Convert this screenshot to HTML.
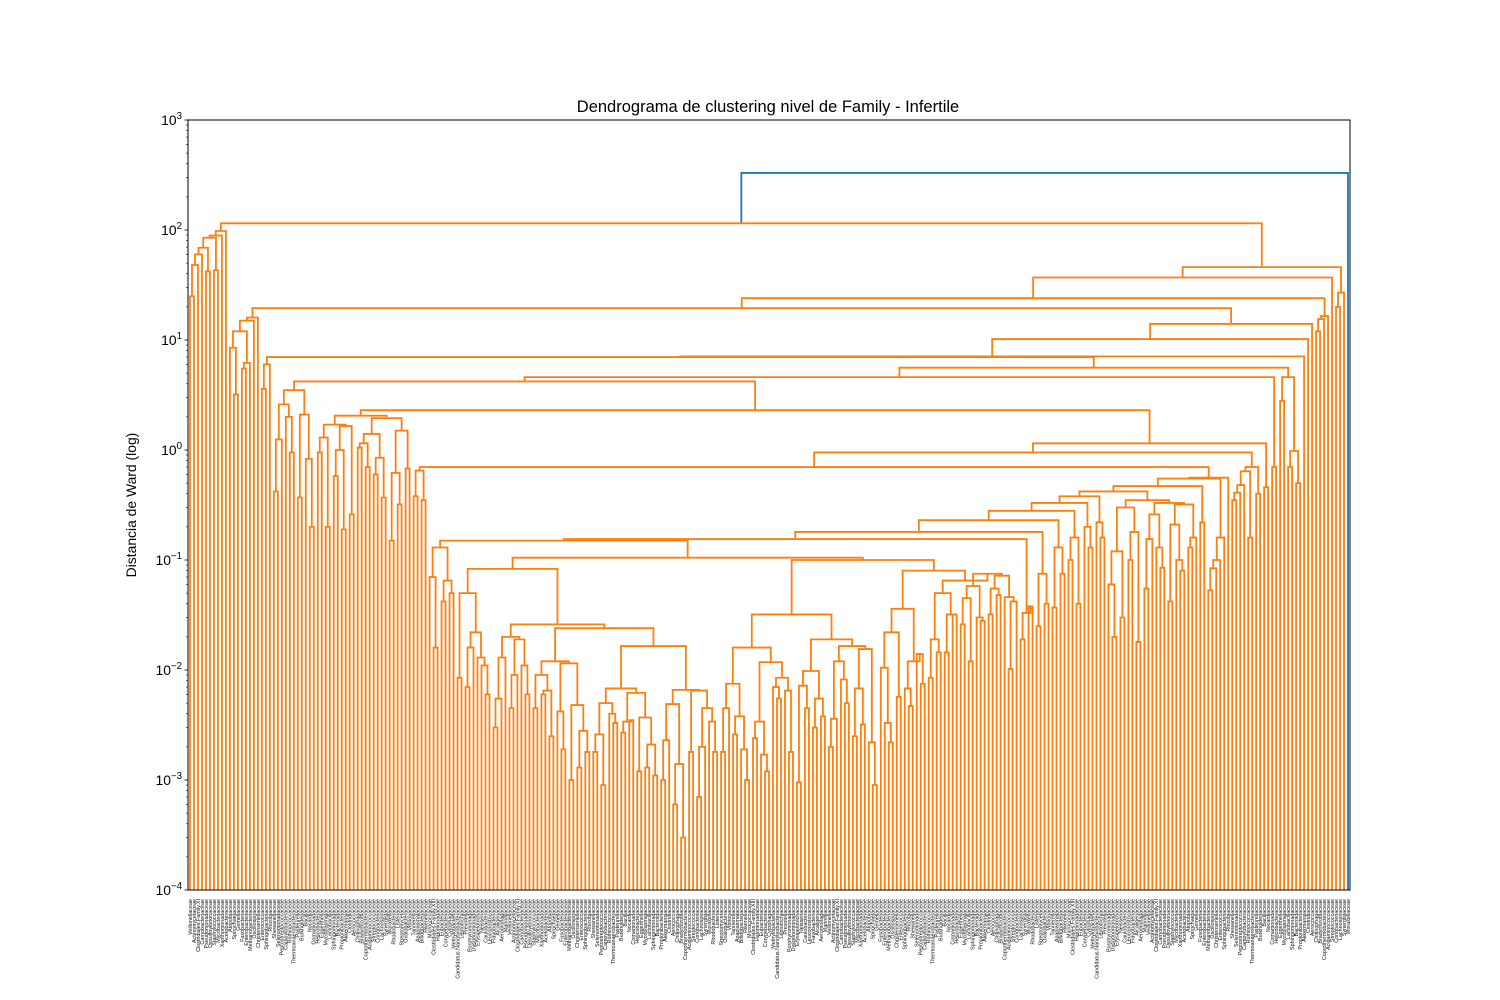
<!DOCTYPE html>
<html>
<head>
<meta charset="utf-8">
<style>
  html, body { margin: 0; padding: 0; background: #ffffff; }
  svg { display: block; }
  text { font-family: "Liberation Sans", "DejaVu Sans", sans-serif; }
</style>
</head>
<body>
<svg id="chart" width="1500" height="1000" viewBox="0 0 1500 1000" xmlns="http://www.w3.org/2000/svg">
  <rect x="0" y="0" width="1500" height="1000" fill="#ffffff"/>
  <text x="768" y="112" text-anchor="middle" font-size="16.5" fill="#000">Dendrograma de clustering nivel de Family - Infertile</text>
  <text transform="translate(136,505) rotate(-90)" text-anchor="middle" font-size="13.9" fill="#000">Distancia de Ward (log)</text>
  <g id="links"></g>
  <g id="yaxis"></g>
  <g id="xlabels"></g>
  <rect x="188" y="120" width="1162" height="770" fill="none" stroke="#000" stroke-width="1"/>
</svg>
<script>
// ---- data: linkage tree [height, left, right]; 0 = leaf ----
const tree =
[330,
  [115,
    [98,[89,[85,[69,[60,[48,[25,0,0],0],0],[42,0,0]],[43,0,0]],0],0],
    [46,
      [37,
        [24,
          [19.5,
            [16,[15,[12,[8.5,0,[3.2,0,0]],[6.2,[5.5,0,0],0]],0],0],
            [14,
              [10.2,
                [7.1,
                  [7,
                    [6,[3.6,0,0],0],
                    [5.6,
                      [4.6,
                        [4.2,
                          [3.5,[2.6,[1.25,[0.42,0,0],0],[2.0,0,[0.95,0,0]]],[2.1,[0.37,0,0],[0.83,0,[0.2,0,0]]]],
                          [2.3,
                            [2.05,
                              [1.7,[1.3,[0.95,0,0],[0.2,0,0]],[1.65,[1.0,[0.58,0,0],[0.19,0,0]],[0.26,0,0]]],
                              [1.95,[1.4,[1.15,[1.05,0,0],[0.7,0,0]],[0.85,[0.6,0,0],[0.37,0,0]]],[1.5,[0.62,[0.15,0,0],[0.32,0,0]],[0.68,0,0]]]
                            ],
                            [1.15,
                              [0.95,
                                [0.7,
                                  [0.65,[0.38,0,0],[0.35,0,0]],
                                  [0.56,
                                    [0.55,
                                      [0.47,
                                        [0.42,
                                          [0.38,[0.33,[0.28,[0.23,[0.18,[0.155,
                                            [0.15,
                                              [0.13,[0.07,0,[0.016,0,0]],[0.065,[0.042,0,0],[0.05,0,0]]],
                                              [0.105,
                                                [0.083,
                                                  [0.05,[0.0085,0,0],[0.022,[0.016,[0.007,0,0],0],[0.013,0,[0.011,0,[0.006,0,0]]]]],
                                                  [0.026,
                                                    [0.02,[0.013,[0.0055,[0.003,0,0],0],0],[0.019,[0.009,[0.0045,0,0],0],[0.011,0,[0.006,0,0]]]],
                                                    [0.024,
                                                      [0.012,[0.009,[0.0045,0,0],[0.0065,[0.006,0,0],[0.0025,0,0]]],[0.0115,[0.0042,0,[0.0019,0,0]],[0.0048,[0.001,0,0],[0.0028,[0.0013,0,0],[0.0018,0,0]]]]],
                                                      [0.0165,
                                                        [0.0068,[0.005,[0.0026,[0.0018,0,0],[0.0009,0,0]],[0.004,0,[0.0033,0,0]]],[0.0062,[0.0034,[0.0027,0,0],[0.0035,0,0]],[0.0037,[0.0012,0,0],[0.0021,[0.0013,0,0],[0.0011,0,0]]]]],
                                                        [0.0066,[0.0049,[0.0023,[0.001,0,0],0],[0.0014,[0.0006,0,0],[0.0003,0,0]]],[0.0065,[0.0018,0,0],[0.0045,[0.002,[0.0007,0,0],0],[0.0034,0,[0.0018,0,0]]]]]
                                                      ]
                                                    ]
                                                  ]
                                                ],
                                                [0.1,
                                                  [0.032,
                                                    [0.016,[0.0075,[0.0045,[0.0018,0,0],0],[0.0038,[0.0026,0,0],[0.0019,0,[0.001,0,0]]]],[0.0118,[0.0034,[0.0024,0,0],[0.0017,0,[0.0012,0,0]]],[0.0085,[0.007,0,[0.0055,0,0]],[0.0065,0,[0.0018,0,0]]]]],
                                                    [0.019,[0.0098,[0.0072,[0.00095,0,0],[0.0045,0,0]],[0.0055,[0.003,0,0],[0.0038,0,0]]],[0.0165,[0.012,[0.0036,[0.002,0,0],0],[0.0082,0,[0.005,0,0]]],[0.0155,[0.0068,[0.0025,0,0],[0.0032,0,0]],[0.0022,0,[0.0009,0,0]]]]]
                                                  ],
                                                  [0.08,
                                                    [0.036,[0.022,[0.0105,0,[0.0033,0,[0.0022,0,0]]],[0.0057,0,0]],[0.012,[0.0068,0,[0.0047,0,0]],[0.014,0,[0.0075,0,0]]]],
                                                    [0.065,[0.05,[0.019,[0.0085,0,0],[0.0145,0,0]],[0.032,[0.0145,0,0],[0.032,0,0]]],[0.075,[0.058,[0.045,[0.026,0,0],[0.012,0,0]],[0.03,0,[0.028,0,0]]],[0.072,[0.055,[0.032,0,0],[0.048,0,0]],[0.046,0,[0.042,[0.0102,0,0],0]]]]]
                                                  ]
                                                ]
                                              ]
                                            ],
                                            [0.033,[0.019,0,0],[0.038,0,0]]],
                                            [0.075,[0.025,0,0],[0.04,0,0]]],
                                            [0.13,[0.037,0,0],[0.075,0,0]]],
                                            [0.16,[0.1,0,0],[0.04,0,0]]],
                                            [0.2,0,[0.13,0,0]]],
                                          [0.22,0,[0.16,0,0]]],
                                          [0.35,
                                            [0.3,[0.12,[0.06,0,[0.02,0,0]],[0.03,0,0]],[0.18,[0.1,0,0],[0.018,0,0]]],
                                            [0.33,[0.26,[0.155,[0.055,0,0],0],[0.13,0,[0.085,0,0]]],[0.32,[0.21,[0.042,0,0],[0.1,0,[0.08,0,0]]],[0.16,[0.13,0,0],0]]]
                                          ]
                                        ],
                                        [0.22,0,0]
                                      ],
                                      [0.16,[0.1,[0.084,[0.053,0,0],0],0],0]
                                    ],
                                    0
                                  ]
                                ],
                                [0.7,[0.64,[0.48,[0.41,[0.35,0,0],0],0],[0.16,0,0]],[0.4,0,0]]
                              ],
                              [0.46,0,0]
                            ]
                          ]
                        ],
                        [0.7,0,0]
                      ],
                      [4.6,[2.8,0,0],[0.98,[0.7,0,0],[0.5,0,0]]]
                    ]
                  ],
                  0
                ],
                0
              ],
              0
            ]
          ],
          [16.5,[15.5,[12,0,0],0],0]
        ],
        0
      ],
      [27,[20,0,0],0]
    ]
  ],
  0
];

const familyNames = ["Veillonellaceae","Peptostreptococcaceae","Streptococcaceae","Prevotellaceae","Gemellaceae","Lactobacillaceae","Bifidobacteriaceae","Actinomycetaceae","Campylobacteraceae","Coriobacteriaceae","Porphyromonadaceae","Fusobacteriaceae","Sphingomonadaceae","Rikenellaceae","Clostridiales.Family.XI","Ruminococcaceae","Lachnospiraceae","Dysgonomonadaceae","Enterobacteriaceae","Bacteroidaceae","Micrococcaceae","Carnobacteriaceae","Thermoanaerobacteraceae","Synergistaceae","Erysipelotrichaceae","Methanobacteriaceae","Propionibacteriaceae","Clostridiales.Family.XIII","Pseudomonadaceae","Pasteurellaceae","Moraxellaceae","Neisseriaceae","Oscillospiraceae","Akkermansiaceae","Halomonadaceae","Desulfovibrionaceae","Burkholderiaceae","Rhodobacteraceae","Caulobacteraceae","Christensenellaceae","Clostridiaceae","Eubacteriaceae","Staphylococcaceae","Bacillaceae","Listeriaceae","Leuconostocaceae","Enterococcaceae","Aerococcaceae","Corynebacteriaceae","Mycobacteriaceae","Nocardiaceae","Streptomycetaceae","Flavobacteriaceae","Sphingobacteriaceae","Chitinophagaceae","Cytophagaceae","Xanthomonadaceae","Comamonadaceae","Oxalobacteraceae","Alcaligenaceae","Rhizobiaceae","Bradyrhizobiaceae","Methylobacteriaceae","Acetobacteraceae","Helicobacteraceae","Vibrionaceae","Aeromonadaceae","Shewanellaceae","Coprothermobacteraceae","Candidatus.Nanosynbacteraceae","Atopobiaceae","Eggerthellaceae","Tannerellaceae","Marinifilaceae","Selenomonadaceae","Acidaminococcaceae","Leptotrichiaceae","Spirochaetaceae","Mycoplasmataceae","Anaplasmataceae"];

// ---- axis functions ----
const plotL = 188, plotR = 1350, plotT = 120, plotB = 890;
const yMinExp = -4, yMaxExp = 3;
function yScale(h) {
  if (h <= 0) return plotB;
  const e = Math.log10(h);
  return plotB - (e - yMinExp) / (yMaxExp - yMinExp) * (plotB - plotT);
}
function countLeaves(n) { return n === 0 ? 1 : countLeaves(n[1]) + countLeaves(n[2]); }
const nLeaves = countLeaves(tree);
function xScale(i) { return plotL + (i + 0.5) * (plotR - plotL) / nLeaves; }

const NS = "http://www.w3.org/2000/svg";
const linksG = document.getElementById("links");
let leafCounter = 0;
const leafXs = [];
function layout(n) {
  if (n === 0) {
    const x = xScale(leafCounter);
    leafXs.push(x);
    leafCounter++;
    return { x: x, h: 0 };
  }
  const a = layout(n[1]);
  const b = layout(n[2]);
  return { x: (a.x + b.x) / 2, h: n[0], a: a, b: b };
}
const rootInfo = layout(tree);

function drawLinks(node, color) {
  if (node.h === 0) return;
  const y = yScale(node.h);
  const p = document.createElementNS(NS, "path");
  p.setAttribute("d", "M" + node.a.x.toFixed(2) + "," + yScale(node.a.h).toFixed(2) +
    "V" + y.toFixed(2) + "H" + node.b.x.toFixed(2) + "V" + yScale(node.b.h).toFixed(2));
  p.setAttribute("fill", "none");
  p.setAttribute("stroke", color);
  p.setAttribute("stroke-width", "1.8");
  
  
  linksG.appendChild(p);
}
function walk(node, isRoot) {
  if (node.h === 0) return;
  drawLinks(node, isRoot ? "#1f77b4" : "#ff7f0e");
  walk(node.a, false);
  walk(node.b, false);
}
walk(rootInfo, true);

// ---- y axis ----
const yG = document.getElementById("yaxis");
for (let e = yMinExp; e <= yMaxExp; e++) {
  const y = yScale(Math.pow(10, e));
  const t = document.createElementNS(NS, "line");
  t.setAttribute("x1", plotL - 3.5); t.setAttribute("x2", plotL);
  t.setAttribute("y1", y); t.setAttribute("y2", y);
  t.setAttribute("stroke", "#000"); t.setAttribute("stroke-width", "0.8");
  
  
  yG.appendChild(t);
  const lbl = document.createElementNS(NS, "text");
  lbl.setAttribute("x", plotL - 6);
  lbl.setAttribute("y", y + 5);
  lbl.setAttribute("text-anchor", "end");
  lbl.setAttribute("font-size", "13.9");
  lbl.setAttribute("fill", "#000");
  
  
  const base = document.createElementNS(NS, "tspan");
  base.textContent = "10";
  const sup = document.createElementNS(NS, "tspan");
  sup.setAttribute("dy", "-6");
  sup.setAttribute("font-size", "9.7");
  sup.textContent = e < 0 ? "\u2212" + Math.abs(e) : String(e);
  lbl.appendChild(base); lbl.appendChild(sup);
  yG.appendChild(lbl);
  if (e < yMaxExp) {
    for (let m = 2; m <= 9; m++) {
      const ym = yScale(m * Math.pow(10, e));
      const mt = document.createElementNS(NS, "line");
      mt.setAttribute("x1", plotL - 2); mt.setAttribute("x2", plotL);
      mt.setAttribute("y1", ym); mt.setAttribute("y2", ym);
      mt.setAttribute("stroke", "#000"); mt.setAttribute("stroke-width", "0.6");
      
      
      yG.appendChild(mt);
    }
  }
}

// ---- leaf labels ----
const xG = document.getElementById("xlabels");
for (let i = 0; i < leafXs.length; i++) {
  const x = leafXs[i];
  const tx = document.createElementNS(NS, "text");
  tx.setAttribute("transform", "translate(" + (x + 1.9).toFixed(2) + ",899) rotate(-90)");
  tx.setAttribute("text-anchor", "end");
  tx.setAttribute("font-size", "5.4");
  tx.setAttribute("fill", "#111");
  
  
  tx.textContent = familyNames[(i * 7) % familyNames.length];
  xG.appendChild(tx);
}
</script>
</body>
</html>
